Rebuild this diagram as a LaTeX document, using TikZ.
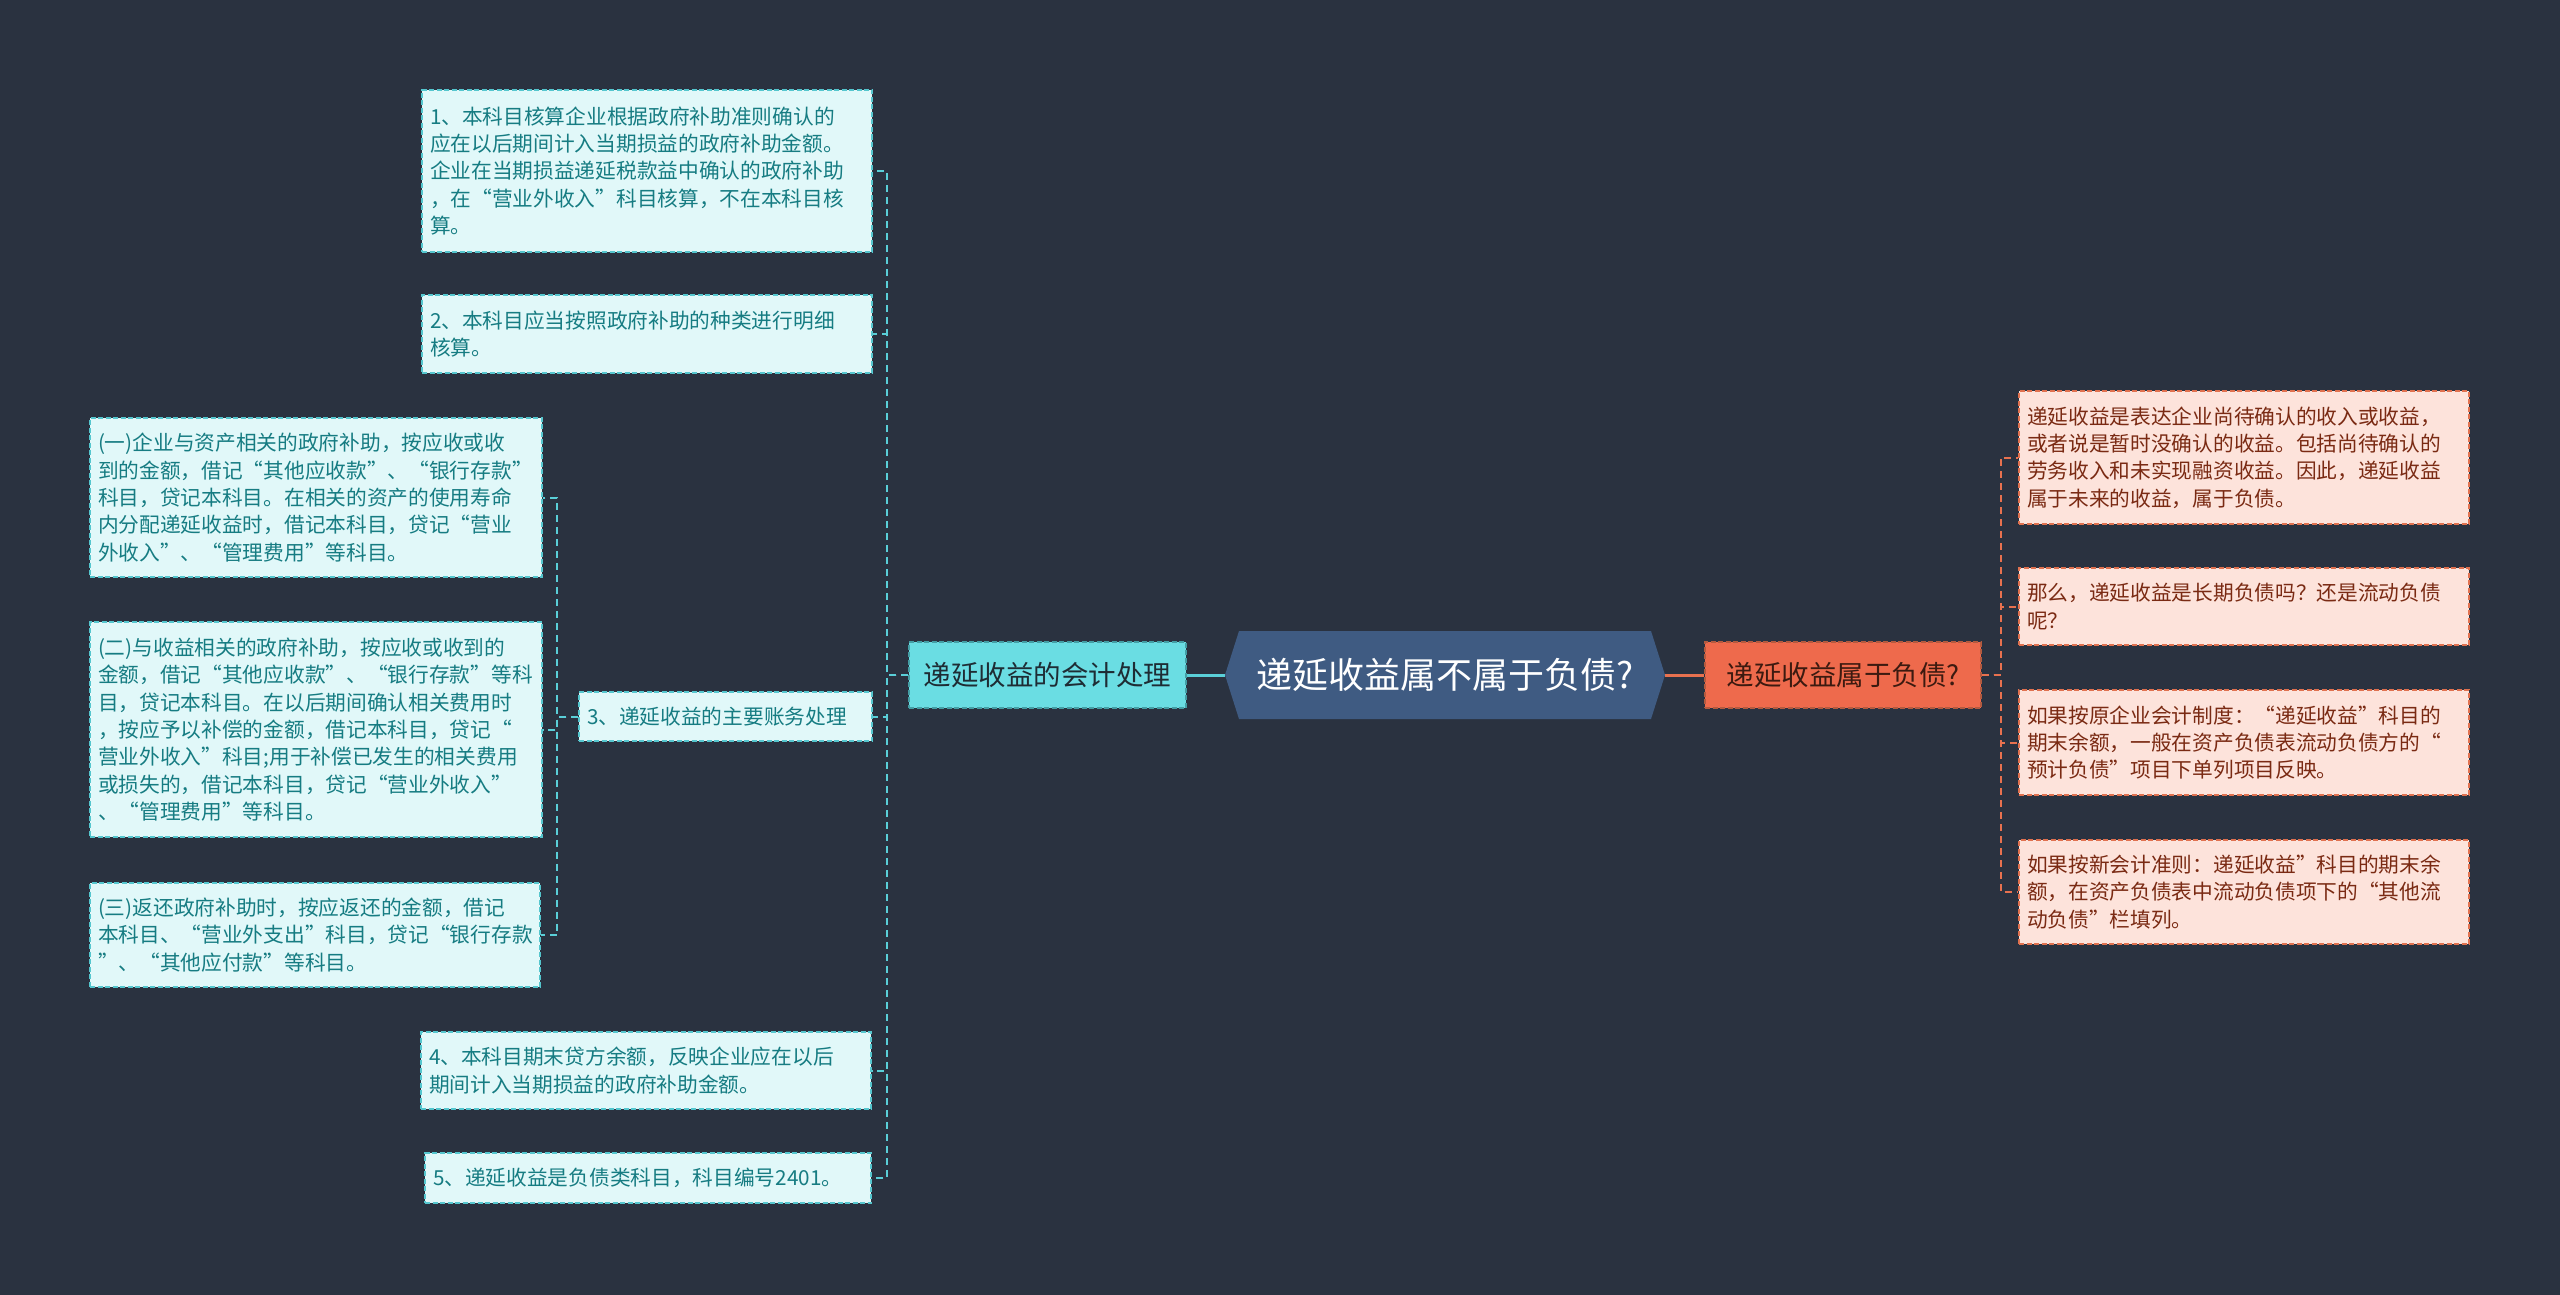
\documentclass[tikz,border=0pt]{standalone}
\usepackage{fontspec}
\newfontfamily\cjk{Noto Sans CJK SC}
\definecolor{bgc}{HTML}{2A3240}
\definecolor{cyfill}{HTML}{6ADDE3}
\definecolor{cytext}{HTML}{1E2C34}
\definecolor{lfill}{HTML}{E1F8F9}
\definecolor{ltext}{HTML}{167C82}
\definecolor{lborder}{HTML}{55C6CE}
\definecolor{lconnc}{HTML}{5ACFD8}
\definecolor{rootfill}{HTML}{3F5B82}
\definecolor{orfill}{HTML}{EE6A4C}
\definecolor{ortext}{HTML}{3C1A10}
\definecolor{rfill}{HTML}{FDE3DB}
\definecolor{rtext}{HTML}{7A2A13}
\definecolor{rborder}{HTML}{E0714F}
\definecolor{rconnc}{HTML}{E8714F}
\begin{document}
\begin{tikzpicture}[x=1pt,y=-1pt,
  every node/.style={font=\cjk},
  leafbase/.style={anchor=center, inner xsep=8pt, inner ysep=0pt, align=left,
    line width=1.5pt, dash pattern=on 5pt off 2.5pt,
    font=\cjk\fontsize{20.7}{27.4}\selectfont},
  lleaf/.style={leafbase, fill=lfill, draw=lborder, text=ltext},
  rleaf/.style={leafbase, fill=rfill, draw=rborder, text=rtext},
  lconn/.style={draw=lconnc, line width=2pt, dash pattern=on 7pt off 5pt},
  rconn/.style={draw=rconnc, line width=2pt, dash pattern=on 7pt off 5pt},
  lsolid/.style={draw=lconnc, line width=3pt},
  rsolid/.style={draw=rconnc, line width=3pt}]
\fill[bgc] (0,0) rectangle (2560,1295);
\useasboundingbox (0,0) rectangle (2560,1295);

% root hexagon
\coordinate (rc) at (1445,675);
\fill[rootfill] (1225,675) -- (1239,631) -- (1651,631) -- (1665,675) -- (1651,719) -- (1239,719) -- cycle;
\node[minimum width=440pt, minimum height=88pt, inner sep=0pt, text=white,
  font=\cjk\fontsize{36}{42}\selectfont] (root) at (rc) {递延收益属不属于负债?};

% first-level branches
\node[minimum width=277pt, minimum height=66pt, inner sep=0pt, fill=cyfill, draw=lborder!80!black,
  line width=1.4pt, dash pattern=on 5pt off 2.5pt, text=cytext,
  font=\cjk\fontsize{27.5}{32}\selectfont] (C) at (1047.5,675) {递延收益的会计处理};
\node[minimum width=276pt, minimum height=66pt, inner sep=0pt, fill=orfill, draw=rborder!80!black,
  line width=1.4pt, dash pattern=on 5pt off 2.5pt, text=ortext,
  font=\cjk\fontsize{27.5}{32}\selectfont] (O) at (1843,675) {递延收益属于负债?};

% left leaves
\node[lleaf, text width=434pt, minimum height=162pt] (L1) at (647,171) {1、本科目核算企业根据政府补助准则确认的\\应在以后期间计入当期损益的政府补助金额。\\企业在当期损益递延税款益中确认的政府补助\\，在“营业外收入”科目核算，不在本科目核\\算。};
\node[lleaf, text width=434pt, minimum height=78pt] (L2) at (647,334) {2、本科目应当按照政府补助的种类进行明细\\核算。};
\node[lleaf, text width=277pt, minimum height=49pt] (L3) at (725.5,716.5) {3、递延收益的主要账务处理};
\node[lleaf, text width=436pt, minimum height=159pt] (L3a) at (316,497.5) {(一)企业与资产相关的政府补助，按应收或收\\到的金额，借记“其他应收款”、“银行存款”\\科目，贷记本科目。在相关的资产的使用寿命\\内分配递延收益时，借记本科目，贷记“营业\\外收入”、“管理费用”等科目。};
\node[lleaf, text width=436pt, minimum height=215pt] (L3b) at (316,729.5) {(二)与收益相关的政府补助，按应收或收到的\\金额，借记“其他应收款”、“银行存款”等科\\目，贷记本科目。在以后期间确认相关费用时\\，按应予以补偿的金额，借记本科目，贷记“\\营业外收入”科目;用于补偿已发生的相关费用\\或损失的，借记本科目，贷记“营业外收入”\\、“管理费用”等科目。};
\node[lleaf, text width=434pt, minimum height=104pt] (L3c) at (315,935) {(三)返还政府补助时，按应返还的金额，借记\\本科目、“营业外支出”科目，贷记“银行存款\\”、“其他应付款”等科目。};
\node[lleaf, text width=434pt, minimum height=77pt] (L4) at (646,1070.5) {4、本科目期末贷方余额，反映企业应在以后\\期间计入当期损益的政府补助金额。};
\node[lleaf, text width=430pt, minimum height=50pt] (L5) at (648,1178) {5、递延收益是负债类科目，科目编号2401。};

% right leaves
\node[rleaf, text width=434pt, minimum height=133pt] (R1) at (2244,457.5) {递延收益是表达企业尚待确认的收入或收益，\\或者说是暂时没确认的收益。包括尚待确认的\\劳务收入和未实现融资收益。因此，递延收益\\属于未来的收益，属于负债。};
\node[rleaf, text width=434pt, minimum height=77pt] (R2) at (2244,606.5) {那么，递延收益是长期负债吗？还是流动负债\\呢？};
\node[rleaf, text width=434pt, minimum height=105pt] (R3) at (2244,742.5) {如果按原企业会计制度：“递延收益”科目的\\期末余额，一般在资产负债表流动负债方的“\\预计负债”项目下单列项目反映。};
\node[rleaf, text width=434pt, minimum height=104pt] (R4) at (2244,892) {如果按新会计准则：递延收益”科目的期末余\\额，在资产负债表中流动负债项下的“其他流\\动负债”栏填列。};

% connectors
\draw[lsolid] (root.west) -- (C.east);
\draw[rsolid] (root.east) -- (O.west);
\foreach \n in {L1,L2,L3,L4,L5}
  \draw[lconn] (C.west) -- ++(-21,0) |- (\n.east);
\foreach \n in {L3a,L3b,L3c}
  \draw[lconn] (L3.west) -- ++(-21,0) |- (\n.east);
\foreach \n in {R1,R2,R3,R4}
  \draw[rconn] (O.east) -- ++(19,0) |- (\n.west);
\end{tikzpicture}
\end{document}
